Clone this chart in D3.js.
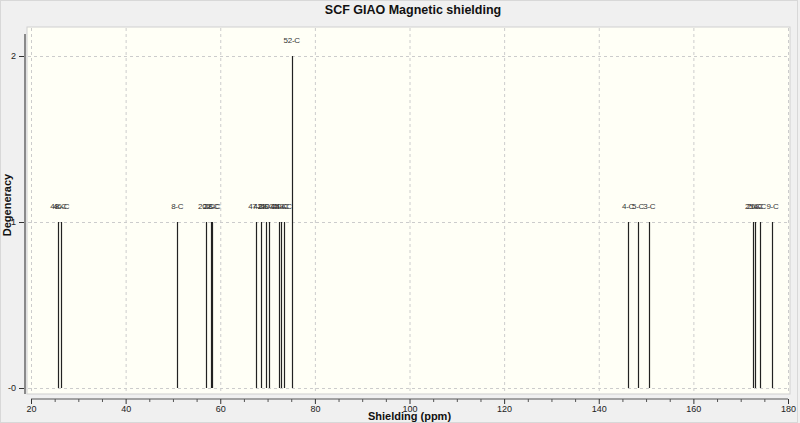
<!DOCTYPE html>
<html><head><meta charset="utf-8">
<script src="https://cdn.jsdelivr.net/npm/d3@7"></script>
<style>
html,body{margin:0;padding:0;background:#f0f0f0;}
svg{display:block;font-family:"Liberation Sans",Arial,sans-serif;}
</style></head>
<body><svg id="c" width="800" height="423"></svg>
<script>
const title = "SCF GIAO Magnetic shielding";
const xTitle = "Shielding (ppm)";
const yTitle = "Degeneracy";
const peakLabels = ["48-C","46-C","8-C","20-C","22-C","28-C","47-C","42-C","29-C","49-C","45-C","40-C","43-C","52-C","4-C","5-C","3-C","25-C","26-C","6-C","9-C"];
const peakPPM    = [25.8, 26.4, 50.9, 57.0, 58.0, 58.3, 67.6, 68.7, 69.7, 70.2, 72.4, 72.8, 73.4, 75.1, 146.2, 148.3, 150.7, 172.6, 173.0, 174.1, 176.7];
const peakDeg    = [1,1,1,1,1,1,1,1,1,1,1,1,1,2,1,1,1,1,1,1,1];
const xTicks = [20,40,60,80,100,120,140,160,180];
const yTicks = [0,1,2];
const yTickLabels = ["-0","1","2"];

const svg = d3.select("#c");
const x = d3.scaleLinear().domain([20,180]).range([31,788]);
const y = d3.scaleLinear().domain([0,2]).range([388,56]);

// title band
svg.append("rect").attr("x",0.5).attr("y",0.5).attr("width",797).attr("height",422).attr("fill","#f0f0f0").attr("stroke","#d8d8d8");
svg.append("text").attr("x",413).attr("y",14).attr("text-anchor","middle")
  .attr("font-size",12.5).attr("font-weight","bold").attr("fill","#111").text(title);

// plot area
svg.append("rect").attr("x",27).attr("y",27).attr("width",763).attr("height",367)
  .attr("fill","#fffff6").attr("stroke","#cfcfcf").attr("stroke-width",1);

// grid
svg.append("g").selectAll("line").data(xTicks).join("line")
  .attr("x1",d=>x(d)+0.5).attr("x2",d=>x(d)+0.5).attr("y1",28).attr("y2",393)
  .attr("stroke","#cccccc").attr("stroke-dasharray","3,3");
svg.append("g").selectAll("line").data(yTicks).join("line")
  .attr("x1",28).attr("x2",789).attr("y1",d=>y(d)+0.5).attr("y2",d=>y(d)+0.5)
  .attr("stroke","#cccccc").attr("stroke-dasharray","3,3");

// left axis bar
svg.append("line").attr("x1",25).attr("x2",25).attr("y1",34).attr("y2",394).attr("stroke","#8a8a8a").attr("stroke-width",2);
const yAxis = d3.axisLeft(y).tickValues(yTicks).tickSize(5).tickFormat((d,i)=>yTickLabels[i]);
const gy = svg.append("g").attr("transform","translate(24,0)").call(yAxis);
gy.select(".domain").remove();
gy.selectAll("text").attr("font-size",9).attr("fill","#222").attr("font-family","Liberation Sans, Arial, sans-serif");
gy.selectAll("line").attr("stroke","#333");

// bottom axis
const xAxis = d3.axisBottom(x).tickValues(xTicks).tickSize(5).tickFormat(d3.format("d"));
const gx = svg.append("g").attr("transform","translate(0,399)").call(xAxis);
gx.select(".domain").attr("stroke","#555").attr("d","M"+x(20)+",0H"+x(180));
gx.selectAll("text").attr("font-size",9).attr("fill","#222").attr("dy","0.55em").attr("font-family","Liberation Sans, Arial, sans-serif");
gx.selectAll("line").attr("stroke","#333");
const minor = d3.range(25,180,5).filter(v=>v%20!==0);
svg.append("g").selectAll("line").data(minor).join("line")
  .attr("x1",d=>x(d)+0.5).attr("x2",d=>x(d)+0.5).attr("y1",399).attr("y2",402).attr("stroke","#555");

svg.append("text").attr("x",x(100)).attr("y",420).attr("text-anchor","middle")
  .attr("font-size",11).attr("font-weight","bold").attr("fill","#111").text(xTitle);
svg.append("text").attr("transform","translate(11,"+205+") rotate(-90)").attr("text-anchor","middle")
  .attr("font-size",11).attr("font-weight","bold").attr("fill","#111").text(yTitle);

// peaks
const peaks = peakPPM.map((p,i)=>({p, d:peakDeg[i], l:peakLabels[i]}));
svg.append("g").selectAll("line").data(peaks).join("line")
  .attr("x1",d=>Math.round(x(d.p))+0.5).attr("x2",d=>Math.round(x(d.p))+0.5)
  .attr("y1",d=>y(d.d)).attr("y2",y(0))
  .attr("stroke","#222").attr("stroke-width",1.2);
svg.append("g").selectAll("text").data(peaks).join("text")
  .attr("x",d=>x(d.p)).attr("y",d=>y(d.d)-13).attr("text-anchor","middle")
  .attr("font-size",8).attr("fill","#333").attr("letter-spacing","-0.3").text(d=>d.l);
</script></body></html>
